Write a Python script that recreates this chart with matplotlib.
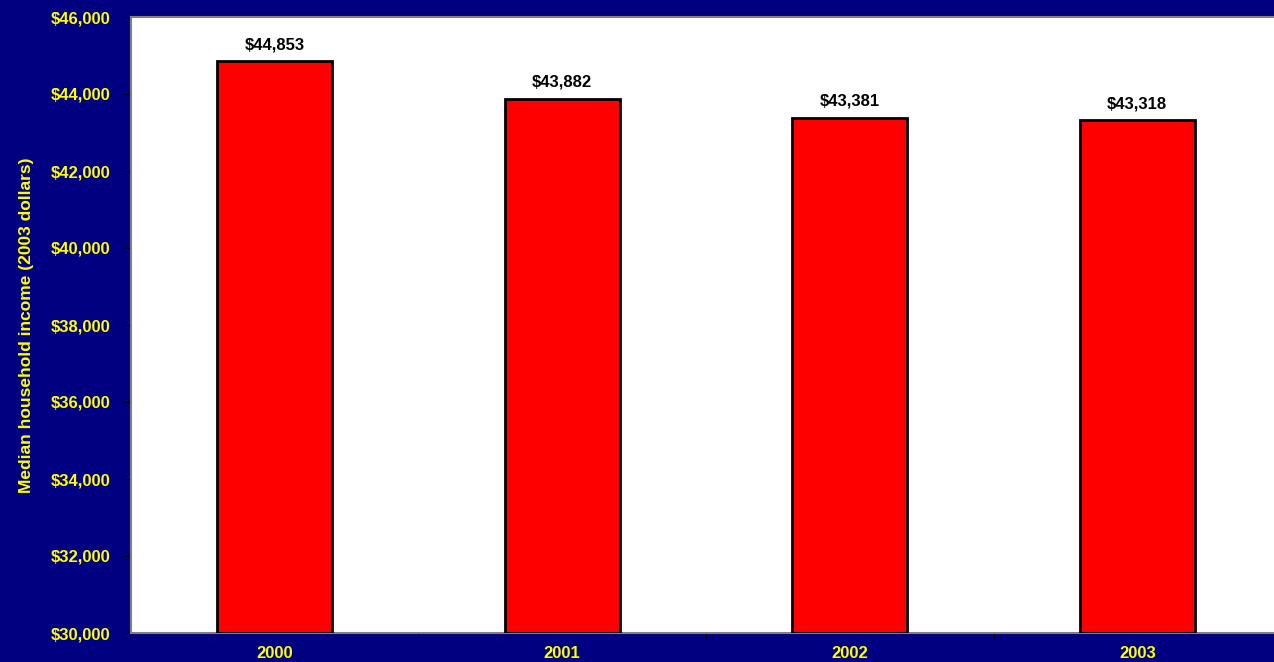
import matplotlib
matplotlib.use("Agg")
import matplotlib.pyplot as plt
from matplotlib.ticker import FuncFormatter, FixedLocator

years = ["2000", "2001", "2002", "2003"]
income = [44853, 43882, 43381, 43318]
yticks = list(range(30000, 46001, 2000))

navy = "#000080"
yellow = "#FFFF00"
font = "Liberation Sans"

fig = plt.figure(figsize=(12.74, 6.62), dpi=100, facecolor=navy)
ax = fig.add_axes([131 / 1274, 1 - 633 / 662, 1150 / 1274, 616 / 662])
ax.set_facecolor("white")

x = range(len(years))
ax.bar(x, [v - 30000 for v in income], bottom=30000, width=0.40,
       color="#FF0000", edgecolor="black", linewidth=2, zorder=3)
for xi, v in zip(x, income):
    ax.text(xi, v + 230, f"${v:,}", ha="center", va="bottom",
            fontsize=12, fontweight="bold", family=font, color="black")

ax.set_xlim(-0.5, len(years) - 0.5)
ax.set_ylim(30000, 46000)
ax.set_yticks(yticks)
ax.yaxis.set_major_formatter(FuncFormatter(lambda v, p: f"${v:,.0f}"))
ax.set_xticks(list(x))
ax.set_xticklabels(years)
ax.xaxis.set_minor_locator(FixedLocator([i + 0.5 for i in x]))
ax.tick_params(axis="x", which="major", length=0, pad=9)
ax.tick_params(axis="x", which="minor", length=4, color="black", direction="out")
ax.tick_params(axis="y", length=5, color="black", direction="out", pad=10)
for lbl in ax.get_xticklabels() + ax.get_yticklabels():
    lbl.set_color(yellow)
    lbl.set_fontweight("bold")
    lbl.set_fontsize(12)
    lbl.set_family(font)

ax.set_ylabel("Median household income (2003 dollars)", color=yellow,
              fontsize=12.5, fontweight="bold", family=font, labelpad=12)
for s in ax.spines.values():
    s.set_color("#808080")
    s.set_linewidth(1.5)

fig.savefig("out.png", dpi=100, facecolor=navy)
